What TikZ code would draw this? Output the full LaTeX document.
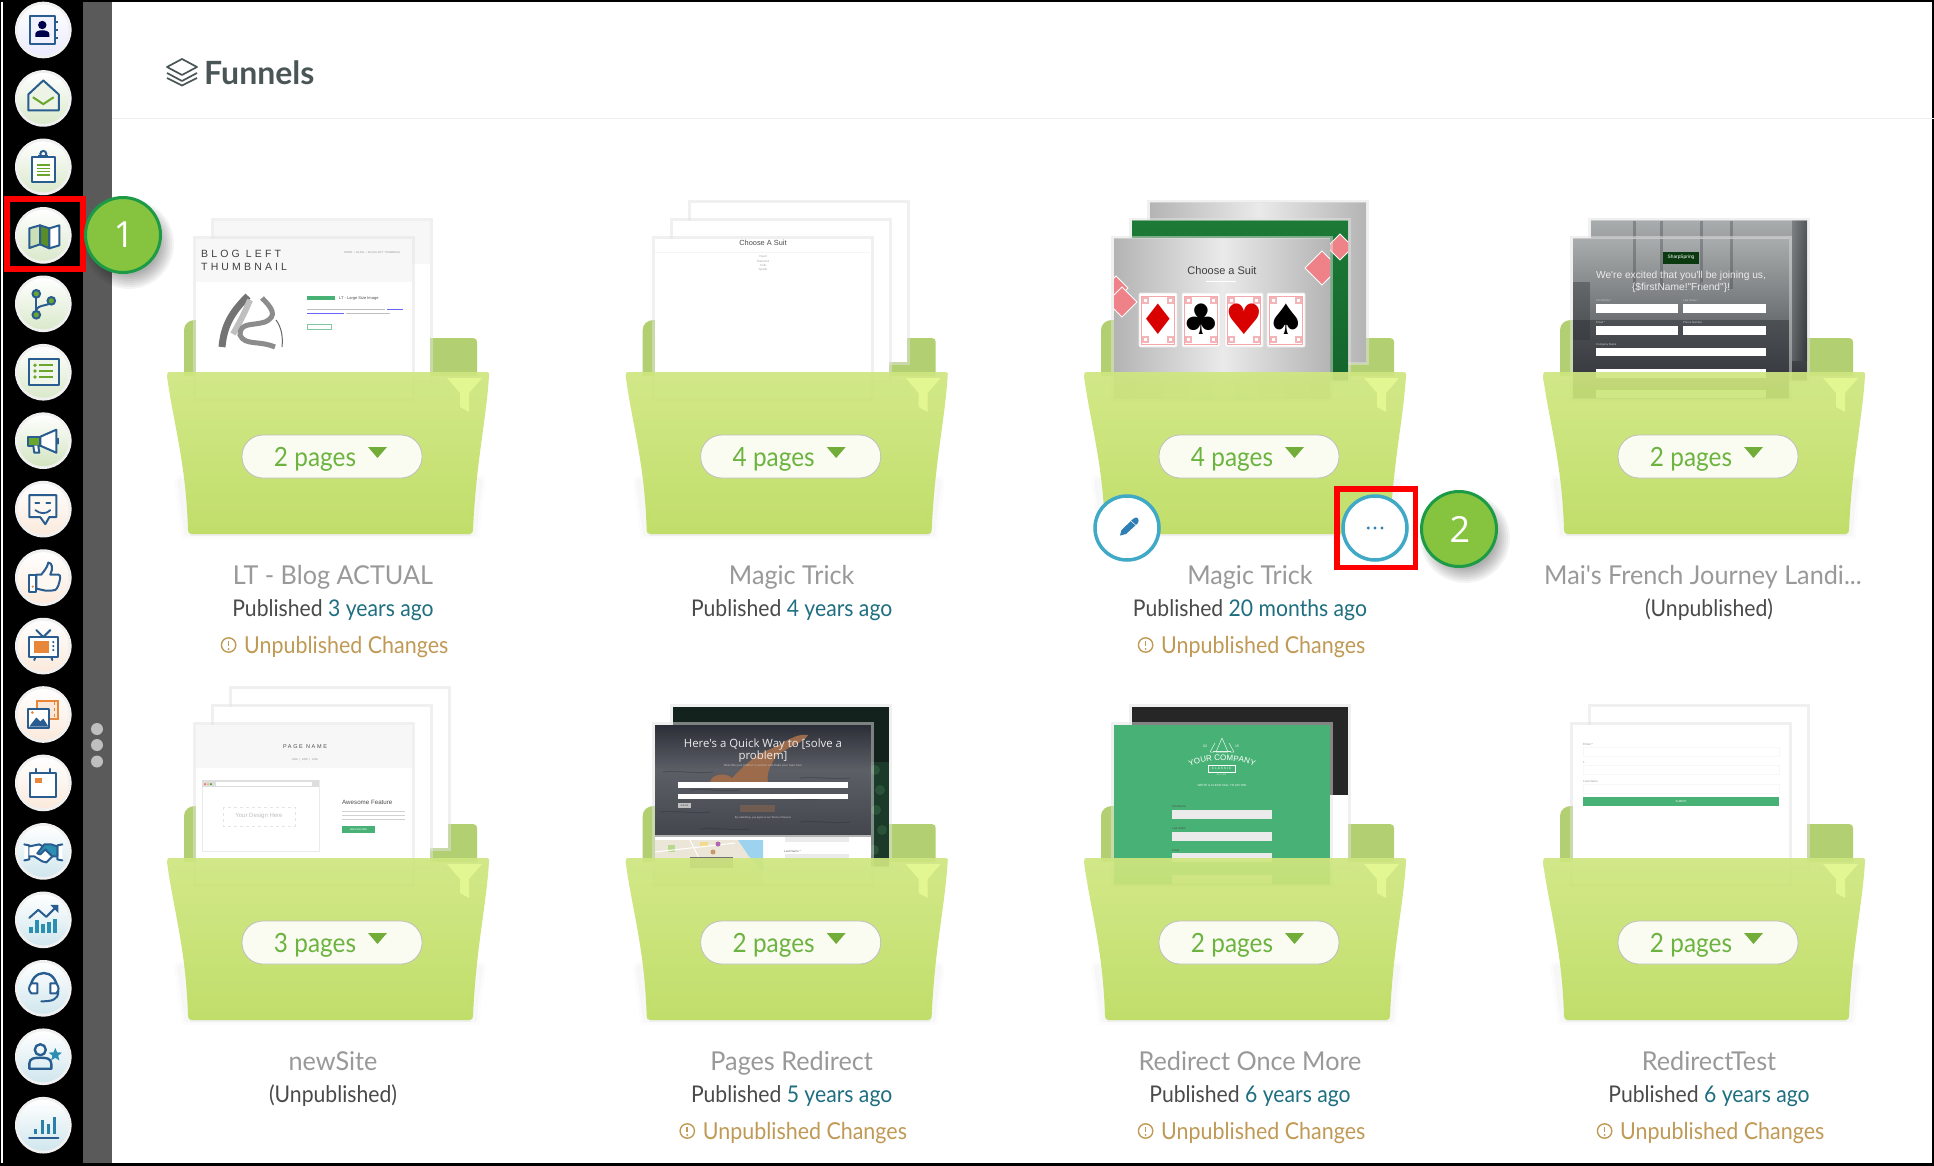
\documentclass[tikz,border=0pt]{standalone}
\usepackage{fontspec}
\setmainfont{Lato}
\newfontfamily\subfont[FakeStretch=0.92]{Lato}
\newfontfamily\nameFont[FakeStretch=0.97]{Lato}
\newfontfamily\thumbfont{Liberation Sans}
\newfontfamily\spacedfont[LetterSpace=30]{Liberation Sans}
\newfontfamily\suitfont{DejaVu Sans}
\newfontfamily\openfont{Open Sans}
\usetikzlibrary{shapes.geometric,decorations.text}
\definecolor{navy}{HTML}{2A5D8F}
\definecolor{leaf}{HTML}{6AA62E}
\definecolor{orng}{HTML}{E8873A}
\definecolor{tealb}{HTML}{2A8FB0}
\definecolor{sidegrey}{HTML}{5A5A5A}
\definecolor{foldertop}{HTML}{CFE67F}
\definecolor{folderbot}{HTML}{BCDC5E}
\definecolor{foldertab}{HTML}{B2CF72}
\definecolor{funnelc}{HTML}{E2F792}
\definecolor{pagetxt}{HTML}{6CB33F}
\definecolor{pagetri}{HTML}{71AD38}
\definecolor{titlec}{HTML}{999999}
\definecolor{pubc}{HTML}{4A4A4A}
\definecolor{agoc}{HTML}{1F6F80}
\definecolor{warnc}{HTML}{C09A55}
\definecolor{ringc}{HTML}{3FA9C6}
\definecolor{dotc}{HTML}{2F7FB5}
\definecolor{badgef}{HTML}{86C440}
\definecolor{badgeb}{HTML}{1D9A46}
\definecolor{redbox}{HTML}{FF0000}
\definecolor{headc}{HTML}{4A5555}
\definecolor{gridg}{HTML}{48B175}
\definecolor{bandg}{HTML}{F7F7F7}
\definecolor{silverd}{HTML}{B4B4B4}
\definecolor{silverl}{HTML}{EAEAEA}
\definecolor{pinkc}{HTML}{EE8288}
\definecolor{cardgreena}{HTML}{1C7A36}
\definecolor{cardgreenb}{HTML}{14642C}
\definecolor{photolight}{HTML}{A8ACAC}
\definecolor{photomid}{HTML}{6B6F70}
\definecolor{photodark}{HTML}{2F3338}
\definecolor{forest}{HTML}{14221D}
\definecolor{forestb}{HTML}{1C3A2A}
\definecolor{forestc}{HTML}{2A5238}
\definecolor{swimtop}{HTML}{2C2F37}
\definecolor{swimmid}{HTML}{5C5F66}
\definecolor{swimbot}{HTML}{44464D}
\definecolor{skin}{HTML}{9C6B4C}
\definecolor{mapbg}{HTML}{EBE6D8}
\definecolor{mapsea}{HTML}{9DD3EE}
\definecolor{mapgreen}{HTML}{B6D98E}
\definecolor{mapyel}{HTML}{F2D98C}
\definecolor{logogreen}{HTML}{0C3A10}
\newcommand\fsz[1]{\fontsize{#1}{#1}\selectfont}
\tikzset{
  pageedge/.style={draw=black!11,draw opacity=.5,line width=3pt},
  lbl/.style={inner sep=0pt,anchor=base},
  lblw/.style={inner sep=0pt,anchor=base west},
  ic/.style={draw=navy,line width=2pt,line join=round,line cap=round},
  gl/.style={draw=leaf,line width=2pt,line cap=round},
  tinyline/.style={draw=black!25,line width=.6pt},
}
% folder back panels
\newcommand\folderback[2]{\begin{scope}[shift={(#1,#2)}]
  \draw[black,opacity=.012,line width=14pt,line cap=round] (14,110) .. controls (17,130) and (19,145) .. (21,160) -- (306,160) .. controls (307,145) and (309,130) .. (312,110);
  \draw[black,opacity=.018,line width=8pt,line cap=round] (14,110) .. controls (17,130) and (19,145) .. (21,160) -- (306,160) .. controls (307,145) and (309,130) .. (312,110);
  \draw[black,opacity=.03,line width=4pt] (23,162) -- (304,162);
  \fill[foldertab] (17,4) -- (17,-42) .. controls (17,-48) and (22,-52) .. (28,-52) -- (120,-52) -- (120,-34) -- (306,-34) .. controls (309,-34) and (310,-32) .. (310,-30) -- (310,4) -- cycle;
\end{scope}}
% front of folder, pill, labels
\newcommand\folderfront[5]{\begin{scope}[shift={(#1,#2)}]
  \shade[top color=foldertop,bottom color=folderbot,fill opacity=.92] (2,0) -- (320,0) .. controls (322,0) and (323,2) .. (322,4) .. controls (319,50) and (309,90) .. (306,158) .. controls (306,161) and (305,162) .. (302,162) -- (25,162) .. controls (22,162) and (21,161) .. (21,158) .. controls (19,90) and (6,50) .. (0,4) .. controls (0,1) and (1,0) .. (2,0) -- cycle;
  \fill[funnelc] (280,6) -- (315,6) -- (302,21) -- (302,40) -- (293,35) -- (293,21) -- cycle;
  \draw[draw=black!25,fill=white!90!foldertop,line width=.8pt,rounded corners=21pt] (75,63) rectangle (255,106);
  \node[lbl,text=pagetxt] at (148,94) {\subfont\fsz{26.5}#3};
  \fill[pagetri] (201,75) -- (220,75) -- (210.5,86) -- cycle;
  \node[lbl,text=titlec] at (166,212) {\nameFont\fsz{26}#4};
  \node[lbl] at (166,244) {\subfont\fsz{23}#5};
\end{scope}}
\newcommand\changes[2]{\begin{scope}[shift={(#1,#2)}]
  \draw[warnc,line width=1.4pt] (61.6,273) circle (7.2);
  \draw[warnc,line width=1.6pt] (61.6,269) -- (61.6,274);
  \fill[warnc] (61.6,277) circle (1.1);
  \node[lblw,text=warnc] at (77,281) {\subfont\fsz{23.3}Unpublished Changes};
\end{scope}}
\newcommand\pubd[1]{\textcolor{pubc}{Published} \textcolor{agoc}{#1}}
\newcommand\unpub{\textcolor{pubc}{(Unpublished)}}
% a thumbnail page
\newcommand\apage[3]{\begin{scope}
  \clip (#1+3,#2+3) rectangle +(216,159);
  \fill[white] (#1+3,#2+3) rectangle +(216,159);
  #3
  \end{scope}
  \draw[pageedge] (#1+1.5,#2+1.5) rectangle +(219,162);}
\newcommand\pinkdia[3]{\draw[white,fill=pinkc,line width=.8pt] (#1,#2-#3) -- (#1+#3,#2) -- (#1,#2+#3) -- (#1-#3,#2) -- cycle;}
\newcommand\suitcard[3]{\draw[black!10,fill=white,line width=.6pt,rounded corners=1pt] (#1,293) rectangle +(38,54);
  \draw[pinkc!70,line width=.6pt] (#1+2.5,296) rectangle +(33,48);
  \fill[white] (#1+6,300) rectangle +(26,40);
  \foreach \pa/\pb in {3/297,28/297,3/336,28/336}{\fill[pinkc!60] (#1+\pa,\pb) rectangle +(7,7);\fill[white] (#1+\pa+1.8,\pb+1.8) rectangle +(3.4,3.4);}
  \node[inner sep=0pt,text=#3] at (#1+19,319) {\suitfont\fsz{42}#2};}
% side icons
\newcommand\sideicon[3]{\begin{scope}[shift={(43.3,30+68.45*#1)}]
  \fill[black!6] (0,0) circle (28.3);
  \shade[top color=white,bottom color=#2] (0,0) circle (25.5);
  #3
\end{scope}}
\newcommand\softshadow[3]{\foreach \rr in {1,3,...,15}{\fill[black,opacity=.045] (#1,#2) circle ({#3+\rr-9});}}
\newcommand\badge[3]{\softshadow{#1+6}{#2+9}{39}
  \draw[draw=badgeb,fill=badgef,line width=3pt] (#1,#2) circle (37.5);
  \node[inner sep=0pt,text=white] at (#1+1,#2) {\fsz{36}\openfont #3};}
\begin{document}
\begin{tikzpicture}[x=1pt,y=-1pt]
\useasboundingbox (0,0) rectangle (1934,1166);
\fill[white] (0,0) rectangle (1934,1166);
% ---------- frame and sidebar
\fill[black] (0,0) rectangle (83,1166);
\fill[white] (1,2) rectangle (3,1163);
\fill[sidegrey] (83,2) rectangle (112,1163);
\fill[black] (0,0) rectangle (1934,2);
\fill[black] (0,1163) rectangle (1934,1166);
\fill[black] (1932,0) rectangle (1934,1166);
\foreach \yy in {729,745,761.5}{\fill[black!25] (97,\yy) circle (6);}
% ---------- heading
\draw[headc,line width=1.7pt,line join=round] (182,59) -- (197,67) -- (182,75) -- (167,67) -- cycle;
\draw[headc,line width=1.7pt,line join=round] (167,73) -- (182,81) -- (197,73);
\draw[headc,line width=1.7pt,line join=round] (167,78) -- (182,85.5) -- (197,78);
\node[lblw,text=headc] (head) at (204,84.5) {\fsz{32}\bfseries Funnels};
\draw[black!7,line width=.8pt] (112,118) -- (1934,118);
% ---------- sidebar icons
\sideicon{0}{blue!8}{
  \draw[ic,fill=blue!5] (-13,-14) rectangle (12,14);
  \foreach \t in {-8,0,8}{\draw[navy,line width=2pt] (12,\t) -- (15,\t);}
  \fill[black!70!blue] (-1,-5) circle (4.2);
  \fill[black!70!blue] (-8,7) -- (-8,4) .. controls (-8,-1) and (6,-1) .. (6,4) -- (6,7) -- cycle;}
\sideicon{1}{leaf!25}{
  \draw[ic,fill=leaf!12] (0,-18) -- (15.5,-4) -- (15.5,12) -- (-15,12) -- (-15,-4) -- cycle;
  \draw[gl] (-10,-1) -- (0,5.7) -- (10,-1);}
\sideicon{2}{leaf!25}{
  \draw[ic,fill=white] (-11.7,-10.3) rectangle (11.7,14.7);
  \draw[navy,line width=2pt,fill=white] (0,-13) circle (3);
  \draw[navy,line width=3pt] (-5,-10) -- (5,-10);
  \foreach \t in {-2,1.3,4.7,8}{\draw[leaf,line width=1.3pt] (-6.7,\t) -- (6.7,\t);}}
\sideicon{3}{leaf!25}{
  \draw[ic,fill=leaf!35] (-14,-7) -- (-3.3,-10) -- (-3.3,9) -- (-14,12.7) -- cycle;
  \draw[ic,fill=leaf!85!black] (-3.3,-10) -- (6,-7) -- (6,13) -- (-3.3,9) -- cycle;
  \draw[ic,fill=white] (6,-7) -- (16,-10) -- (16,10) -- (6,13) -- cycle;}
\sideicon{4}{leaf!25}{
  \draw[ic] (-7,-10) -- (-7,11);
  \draw[ic] (8,-3) .. controls (8,3) and (-7,0) .. (-7,7);
  \foreach \a/\b in {-7/-10,8/-3,-7/11}{\draw[navy,line width=2pt,fill=leaf] (\a,\b) circle (3.8);}}
\sideicon{5}{leaf!25}{
  \draw[ic,fill=leaf!10] (-14,-13.7) rectangle (15.7,12.7);
  \foreach \t in {-7,-1.3,4.7}{\fill[leaf] (-8.3,\t) circle (1.9); \draw[leaf,line width=2.4pt] (-4,\t) -- (10,\t);}}
\sideicon{6}{leaf!30}{
  \draw[ic,fill=white] (-3,-4) -- (13,-11) -- (13,12) -- (-3,5) -- cycle;
  \draw[ic,fill=leaf] (-15,-4) rectangle (-3,5);
  \draw[ic,fill=white] (-10,5) -- (-9,12) -- (-4,12) -- (-5,5);
  \draw[ic] (15,-2) -- (15,3);}
\sideicon{7}{orng!18}{
  \draw[ic,fill=orng!6] (-14,-14) -- (13,-14) -- (13,8) -- (6,8) -- (2,15) -- (-3,8) -- (-14,8) -- cycle;
  \draw[navy,line width=1.8pt,line cap=round] (-8,-6) -- (-4,-6) (3,-6) -- (7,-6);
  \draw[navy,line width=1.8pt,line cap=round] (-8,1) .. controls (-3,5) and (3,5) .. (7,1);}
\sideicon{8}{orng!18}{
  \draw[ic,fill=orng!6] (-7,-3) -- (-2,-3) .. controls (1,-7) and (4,-10) .. (5,-15) .. controls (9,-15) and (10,-9) .. (7,-3) -- (15,-3) .. controls (18,-3) and (17,2) .. (15,8) .. controls (13,13) and (11,13) .. (8,13) -- (2,13) -- (-7,11) -- cycle;
  \draw[ic,fill=white] (-14,-3) rectangle (-7,14);
  \fill[orng] (-10.5,9) circle (1.2);}
\sideicon{9}{orng!18}{
  \draw[ic] (-7,-16) -- (0,-9) -- (7,-16);
  \draw[ic,fill=white] (-14,-9) rectangle (15,11);
  \fill[orng] (-9,-5) rectangle (6,7);
  \foreach \t in {-4,0,4}{\fill[navy] (10,\t) circle (1.2);}
  \draw[ic] (-8,11) -- (-9,14) (8,11) -- (9,14);}
\sideicon{10}{orng!18}{
  \draw[draw=orng,line width=2pt,fill=orng!20] (-6,-14) rectangle (15,4);
  \draw[draw=orng,line width=1.4pt,dashed] (11,-13) -- (11,3);
  \fill[white] (-16,-7) rectangle (7,14);
  \draw[ic,fill=white] (-15,-6) rectangle (6,13);
  \fill[navy] (-14,12) -- (-7,3) -- (-3,7) -- (0,4) -- (5,12) -- cycle;
  \fill[orng] (-11,-2) circle (1.5);}
\sideicon{11}{orng!18}{
  \draw[ic,fill=white] (-13,-10) rectangle (13,14);
  \draw[ic] (-7,-14) -- (-7,-10) (7,-14) -- (7,-10);
  \fill[orng] (-8,-5) rectangle (-1,0);}
\sideicon{12}{tealb!22}{
  \draw[ic,fill=white] (-19,-7) -- (-14,-6) -- (-14,8) -- (-19,9);
  \draw[ic,fill=white] (19,-7) -- (14,-6) -- (14,8) -- (19,9);
  \draw[ic,fill=white] (-14,-5) -- (-4,-7) -- (2,-4) -- (9,5) -- (3,11) -- (-1,10) -- (-9,5) -- (-14,5);
  \draw[ic,fill=tealb] (-6,2) -- (1,-7) -- (8,-7) -- (14,-5) -- (14,5) -- (9,5) -- (2,-2) -- (-3,3) -- cycle;}
\sideicon{13}{tealb!22}{
  \foreach \a/\b in {-14/7,-8/0,-2/4,4/2,10/-1}{\fill[tealb] (\a,\b) rectangle (\a+4,13);}
  \draw[ic] (-14,-2) -- (-5,-10) -- (3,-3) -- (12,-12);
  \fill[navy] (15,-15) -- (15,-7) -- (7,-15) -- cycle;}
\sideicon{14}{tealb!22}{
  \draw[ic,line width=2.4pt] (-13,2) .. controls (-13,-21) and (14,-21) .. (14,2);
  \draw[ic,fill=white] (-6,-5) -- (-12,-5) .. controls (-15,-1) and (-15,2) .. (-12,5) -- (-6,5) -- cycle;
  \draw[ic,fill=white] (7,-5) -- (13,-5) .. controls (16,-1) and (16,2) .. (13,5) -- (7,5) -- cycle;
  \draw[ic] (15,3) .. controls (15,12) and (8,13) .. (-2,13);}
\sideicon{15}{tealb!22}{
  \draw[ic,line width=2.4pt] (-3,-7) circle (5.5);
  \draw[ic,line width=2.4pt] (-14,12) -- (-14,7) .. controls (-14,1) and (-8,1) .. (-3,1) .. controls (2,1) and (8,1) .. (8,7) -- (8,12) -- cycle;
  \node[star,star points=5,star point ratio=2.3,fill=tealb,minimum size=14pt,inner sep=0pt] (starnode) at (12,-2) {};}
\sideicon{16}{tealb!22}{
  \draw[ic,line width=2.4pt] (-14,13) -- (15,13);
  \foreach \a/\b in {-8/4,-1/-5,5/-1,11/-8}{\fill[tealb!70!navy] (\a-1,\b) rectangle (\a+2,9);}}
% ---------- red box and badge 1
\draw[redbox,line width=6pt] (7,199) rectangle (83,269);
\badge{123}{235}{1}
% ---------- ROW 1 ---------------------------------------------
% folder 1
\folderback{167}{372}
\apage{211}{218}{\fill[bandg] (214,221) rectangle (430,264);}
\apage{193}{236}{
  \fill[bandg] (196,239) rectangle (412,282);
  \node[lblw,text=black!75] at (201,258) {\spacedfont\fsz{10.5}BLOG LEFT};
  \node[lblw,text=black!75] at (201,270) {\spacedfont\fsz{10.5}THUMBNAIL};
  \node[lblw,text=black!40] at (344,254) {\thumbfont\fsz{2.8}HOME \ / \ BLOG \ / \ BLOG LEFT THUMBNAIL};
  \draw[black!55,line width=7pt] (222,347) .. controls (224,325) and (232,312) .. (248,296);
  \draw[black!25,line width=6pt] (233,334) .. controls (240,322) and (245,312) .. (250,300);
  \draw[black!45,line width=5pt] (262,298) .. controls (272,308) and (278,316) .. (265,322) .. controls (252,326) and (240,322) .. (240,335) .. controls (245,346) and (258,340) .. (275,347);
  \draw[black!60,line width=1pt] (276,320) .. controls (282,328) and (283,338) .. (282,347);
  \fill[gridg] (307,296) rectangle (335,300);
  \node[lblw,text=black!70] at (339,299.5) {\thumbfont\fsz{4}LT - Large Size Image};
  \draw[tinyline] (307,309) -- (385,309); \draw[blue!60,line width=.7pt] (387,309) -- (403,309);
  \draw[blue!60,line width=.7pt] (307,313.5) -- (344,313.5); \draw[tinyline] (346,313.5) -- (390,313.5);
  \draw[gridg!70,line width=.6pt] (307,324.5) rectangle (331,329);
}
\folderfront{167}{372}{2 pages}{LT - Blog ACTUAL}{\pubd{3 years ago}}
\changes{167}{372}
% folder 2
\folderback{625.67}{372}
\apage{688}{200}{}
\apage{670}{218}{}
\apage{652}{236}{
  \node[lbl,text=black!70] at (763,246) {\thumbfont\fsz{7.4}Choose A Suit};
  \draw[black!4,line width=.5pt] (655,252) -- (870,252);
  \foreach \t/\n in {258/Heart,262/Diamond,266/Club,270/Spade}{\node[lbl,text=black!35] at (763,\t) {\thumbfont\fsz{3}\n};}
}
\folderfront{625.67}{372}{4 pages}{Magic Trick}{\pubd{4 years ago}}
% folder 3
\folderback{1084}{372}
\apage{1147}{200}{\shade[left color=silverd,right color=silverd,middle color=silverl] (1150,203) rectangle (1366,365);}
\apage{1129}{218}{
  \shade[top color=cardgreena,bottom color=cardgreenb] (1132,221) rectangle (1348,383);
  \pinkdia{1340}{247}{13}
}
\apage{1111}{236}{
  \shade[left color=silverd,right color=silverd,middle color=silverl] (1114,239) rectangle (1330,401);
  \pinkdia{1322}{268}{17}
  \pinkdia{1116}{288}{12}
  \pinkdia{1122}{302}{15}
  \node[lbl,text=black!75] at (1222,274) {\thumbfont\fsz{11}Choose a Suit};
  \draw[white,line width=.5pt] (1206,281) -- (1236,281);
  \suitcard{1139}{♦}{red!85!black}
  \suitcard{1182}{♣}{black}
  \suitcard{1225}{♥}{red!85!black}
  \suitcard{1267}{♠}{black}
}
\folderfront{1084}{372}{4 pages}{Magic Trick}{\pubd{20 months ago}}
\changes{1084}{372}
% edit and more buttons, box, badge 2
\draw[draw=ringc,fill=white,line width=3.5pt] (1127,528) circle (32);
\fill[dotc] (1120,535.5) -- (1121.5,530) -- (1133,519) .. controls (1135,517) and (1137,517) .. (1138,518.5) .. controls (1139,520) and (1139,522) .. (1137.5,523.5) -- (1126,534) -- cycle;
\draw[white,line width=.5pt] (1131,521) -- (1136,525.5);
\draw[draw=ringc,fill=white,line width=3.5pt] (1375,528) circle (32);
\foreach \t in {1368.3,1375,1382}{\fill[dotc] (\t,528) circle (1.6);}
\draw[redbox,line width=5.5pt] (1336.75,488.75) rectangle (1415.25,567.25);
\badge{1459}{529}{2}
% folder 4
\folderback{1543}{372}
\apage{1588}{218}{
  \shade[top color=photolight,middle color=photomid,bottom color=photodark] (1591,221) rectangle (1807,383);
  \shade[left color=photomid,right color=photodark,opacity=.7] (1792,221) rectangle (1807,360);
  \foreach \t in {1633,1660,1700,1730}{\fill[photodark,opacity=.3] (\t,221) rectangle +(3,50);}
}
\apage{1570}{236}{
  \shade[top color=photolight,middle color=photomid,bottom color=photodark] (1573,239) rectangle (1789,401);
  \foreach \t in {1633,1660,1700,1730}{\fill[photodark,opacity=.3] (\t,239) rectangle +(3,50);}
  \fill[photodark,opacity=.4] (1573,282) rectangle (1590,340);
  \fill[photodark,opacity=.5] (1573,320) rectangle (1789,401);
  \fill[logogreen] (1663,252) rectangle (1699,264);
  \node[inner sep=0pt,text=white] at (1681,257.5) {\thumbfont\fsz{4.8}SharpSpring};
  \node[lbl,text=white!92!black] at (1681,278) {\thumbfont\fsz{10.2}We're excited that you'll be joining us,};
  \node[lbl,text=white!92!black] at (1681,290) {\thumbfont\fsz{10.2}\{\$firstName!"Friend"\}!};
  \foreach \a/\b/\c/\d in {1596/304/1678/313,1683/304/1766/313,1596/326/1678/335,1683/326/1766/335,1596/348/1766/356,1596/369/1766/378,1596/390/1766/398}{\fill[white] (\a,\b) rectangle (\c,\d);}
  \node[lblw,text=white!80!black] at (1596,301.5) {\thumbfont\fsz{2.8}First Name *};
  \node[lblw,text=white!80!black] at (1683,301.5) {\thumbfont\fsz{2.8}Last Name *};
  \node[lblw,text=white!80!black] at (1596,323.5) {\thumbfont\fsz{2.8}Email *};
  \node[lblw,text=white!80!black] at (1683,323.5) {\thumbfont\fsz{2.8}Phone Number};
  \node[lblw,text=white!80!black] at (1596,345.5) {\thumbfont\fsz{2.8}Company Name};
}
\folderfront{1543}{372}{2 pages}{Mai's French Journey Landi...\hspace*{12pt}\mbox{}}{\unpub}
% ---------- ROW 2 ---------------------------------------------
% folder 5
\folderback{167}{858}
\apage{229}{686}{}
\apage{211}{704}{}
\apage{193}{722}{
  \fill[bandg] (196,725) rectangle (412,768);
  \node[lbl,text=black!70] at (305,748) {\spacedfont\fsz{5.5}PAGE NAME};
  \node[lbl,text=black!40] at (305,760) {\thumbfont\fsz{2.8}LINK \ | \ LINK \ | \ LINK};
  \draw[black!8,fill=white,line width=.7pt] (202,780) rectangle (319,851);
  \fill[black!13] (202,780) rectangle (319,787);
  \fill[white] (216,781.5) rectangle (312,785.5);
  \fill[red!70] (205,784) circle (1); \fill[orange!70] (208,784) circle (1); \fill[green!60!black] (211,784) circle (1);
  \draw[black!10,dashed,line width=.5pt] (223,807) rectangle (295,826);
  \node[inner sep=0pt,text=black!25] at (259,816) {\thumbfont\fsz{6}Your Design Here};
  \node[lblw,text=black!70] at (342,804) {\thumbfont\fsz{6.2}Awesome Feature};
  \foreach \t in {811,815,819}{\draw[tinyline,draw=black!18] (342,\t) -- (405,\t);}
  \fill[gridg] (342,826) rectangle (375,833);
  \node[inner sep=0pt,text=white] at (358.5,829.5) {\thumbfont\fsz{2.5}SEE FEATURE};
}
\folderfront{167}{858}{3 pages}{newSite}{\unpub}
% folder 6
\folderback{625.67}{858}
\apage{670}{704}{
  \fill[forest] (673,707) rectangle (889,869);
  \fill[forestb] (760,762) rectangle (889,869);
  \foreach \a/\b in {875/770,880/790,876/810,882/830,874/850,878/865}{\fill[forestc] (\a,\b) circle (5);}
}
\apage{652}{722}{
  \fill[white] (655,725) rectangle (871,887);
  \fill[swimbot] (655,725) rectangle (871,835);
  \shade[top color=swimtop,bottom color=swimmid] (655,725) rectangle (871,770);
  \shade[top color=swimmid,bottom color=swimbot] (655,770) rectangle (871,835);
  \foreach \t/\u in {772/663,778/800,790/690,799/770,812/660,822/800,829/700}{\draw[swimtop,opacity=.35,line width=1pt] (\u,\t) .. controls (\u+15,\t-2) and (\u+30,\t+2) .. (\u+50,\t);}
  \fill[skin] (710,782) .. controls (712,774) and (725,772) .. (732,778) .. controls (742,768) and (752,757) .. (768,750) .. controls (785,743) and (795,733) .. (808,735) .. controls (805,742) and (788,747) .. (777,755) .. controls (770,765) and (766,775) .. (768,782) -- cycle;
  \fill[skin,opacity=.45] (740,805) rectangle (775,812);
  \node[lbl,text=white!92!black] at (763,747) {\openfont\fsz{11.4}Here's a Quick Way to [solve a};
  \node[lbl,text=white!92!black] at (763,759) {\openfont\fsz{11.4}problem]};
  \node[lbl,text=white!75!black] at (763,766) {\thumbfont\fsz{3}Describe your product or service and make your case here};
  \fill[white] (678,782) rectangle (848,788);
  \fill[white] (678,794) rectangle (848,799);
  \fill[black!25] (678,803) rectangle (691,808);
  \node[inner sep=0pt,text=black!70] at (684.5,805.5) {\thumbfont\fsz{2.5}Submit};
  \node[lbl,text=white!80!black] at (763,818) {\thumbfont\fsz{2.6}By submitting, you agree to our Terms of Service};
  \fill[black!30] (655,835) rectangle (871,836.5);
  \fill[black!8] (785,837) rectangle (849,842);
  \fill[black!8] (785,854) rectangle (849,862);
  \node[lblw,text=black!60] at (784,852) {\thumbfont\fsz{3}Last Name *};
  \fill[mapbg] (655,840) rectangle (763,890);
  \fill[mapsea] (738,840) -- (763,840) -- (763,872) -- (748,855) -- cycle;
  \fill[mapgreen] (668,845) rectangle (675,852);
  \fill[mapyel] (700,842) rectangle (708,847);
  \draw[white,line width=1pt] (655,852) -- (735,843) (690,840) -- (705,870);
  \fill[violet!60] (718,844) circle (2.5);
  \fill[brown!80] (713,852) circle (2.5);
  \fill[black!55] (690,857) rectangle (733,868);
}
\folderfront{625.67}{858}{2 pages}{Pages Redirect}{\pubd{5 years ago}}
\changes{625.67}{858}
% folder 7
\folderback{1084}{858}
\apage{1129}{704}{\fill[black!85] (1132,707) rectangle (1348,795);}
\apage{1111}{722}{
  \fill[gridg] (1114,725) rectangle (1330,887);
  \draw[white!85!gridg,line width=.5pt,line join=round] (1222,738) -- (1216,752) -- (1228,752) -- cycle (1215,743) -- (1210,752) -- (1214,752) (1229,743) -- (1234,752) -- (1230,752);
  \draw[white!85!gridg,line width=.4pt] (1213,751) -- (1231,751);
  \node[inner sep=0pt,text=white] at (1205,746) {\thumbfont\fsz{3.5}02};
  \node[inner sep=0pt,text=white] at (1237,746) {\thumbfont\fsz{3.5}15};
  \path[decorate,decoration={text along path,text color=white,text align=center,text={|\thumbfont\fsz{8}|YOUR COMPANY}}] (1190,766) .. controls (1205,759) and (1239,759) .. (1254,766);
  \draw[white,line width=.5pt] (1208,765) rectangle (1235,772);
  \node[inner sep=0pt,text=white] at (1221.5,768.5) {\spacedfont\fsz{3.2}CLASSIC};
  \node[inner sep=0pt,text=white!85!gridg] at (1221.5,774.5) {\thumbfont\fsz{2}EST. 1916};
  \node[inner sep=0pt,text=white!90!gridg] at (1222,785) {\thumbfont\fsz{3}WRITE A CLEAR CALL TO ACTION};
  \foreach \t in {810,832,853,875}{\fill[black!8] (1172,\t) rectangle (1272,\t+9);}
  \node[lblw,text=black!70] at (1172,807) {\thumbfont\fsz{2.8}First Name};
  \node[lblw,text=black!70] at (1172,829) {\thumbfont\fsz{2.8}Last Name};
  \node[lblw,text=black!70] at (1172,851) {\thumbfont\fsz{2.8}Email};
}
\folderfront{1084}{858}{2 pages}{Redirect Once More}{\pubd{6 years ago}}
\changes{1084}{858}
% folder 8
\folderback{1543}{858}
\apage{1588}{704}{}
\apage{1570}{722}{
  \foreach \t in {747,765,784}{\draw[black!3,line width=.5pt] (1583,\t) rectangle (1779,\t+9);}
  \node[lblw,text=black!40] at (1583,745.5) {\thumbfont\fsz{3}Email *};
  \node[lblw,text=black!40] at (1583,763.5) {\thumbfont\fsz{3}1};
  \node[lblw,text=black!40] at (1583,782) {\thumbfont\fsz{3}Last Name};
  \fill[gridg] (1583,797) rectangle (1779,806);
  \node[inner sep=0pt,text=white] at (1681,801.5) {\thumbfont\fsz{2.8}SUBMIT};
}
\folderfront{1543}{858}{2 pages}{RedirectTest}{\pubd{6 years ago}}
\changes{1543}{858}
\end{tikzpicture}
\end{document}
